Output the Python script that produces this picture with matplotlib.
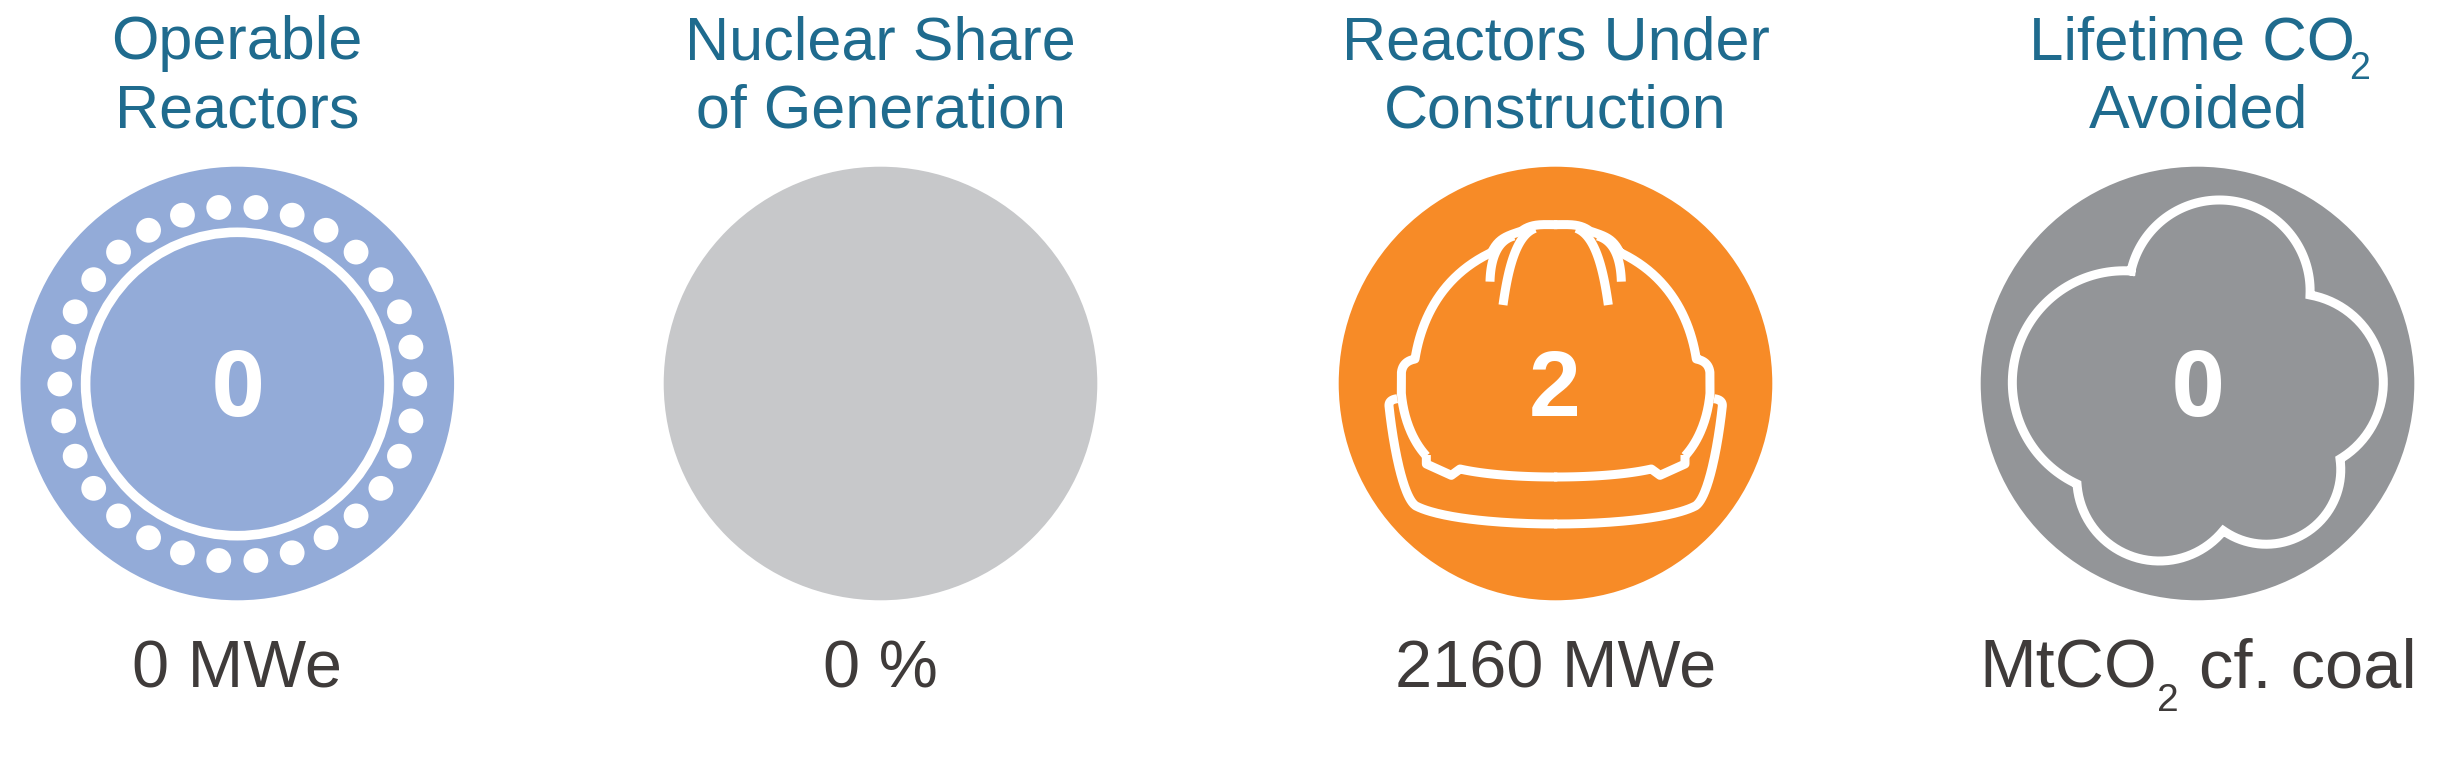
import numpy as np
import matplotlib
matplotlib.use("Agg")
import matplotlib.pyplot as plt
from matplotlib.patches import Circle

W, H = 2456, 761
FONT = "Liberation Sans"

# ---- content
title_line1 = ["Operable", "Nuclear Share", "Reactors Under", "Lifetime CO"]
title_line2 = ["Reactors", "of Generation", "Construction", "Avoided"]
center_labels = ["0", "", "2", "0"]
footers = ["0 MWe", "0 %", "2160 MWe", None]
badge_colors = ["#93ABD8", "#C7C8CA", "#F78B27", "#939598"]
badge_x = [237.3, 880.5, 1555.5, 2197.5]
N_DOTS = 30

TITLE_C = "#1F6B8E"
TEXT_C = "#3F3B3A"
BADGE_Y, BADGE_R = 383.5, 216.8
LW = 9 * 0.72
TITLE_FS = 43.9
FOOT_FS = 48


def bez(p0, c1, c2, p3, n=50):
    t = np.linspace(0, 1, n)[:, None]
    p0, c1, c2, p3 = map(lambda v: np.asarray(v, float), (p0, c1, c2, p3))
    return (1 - t) ** 3 * p0 + 3 * (1 - t) ** 2 * t * c1 + 3 * (1 - t) * t ** 2 * c2 + t ** 3 * p3


def arc3(a, b, c, n=80):
    """Circular arc from a through b to c."""
    a, b, c = map(lambda v: np.asarray(v, float), (a, b, c))
    A = 2 * np.array([b - a, c - a])
    rhs = np.array([b @ b - a @ a, c @ c - a @ a])
    o = np.linalg.solve(A, rhs)
    r = np.linalg.norm(a - o)
    ang = lambda p: np.arctan2(p[1] - o[1], p[0] - o[0])
    t0, t1, t2 = ang(a), ang(b), ang(c)
    d1 = (t1 - t0) % (2 * np.pi)
    d2 = (t2 - t0) % (2 * np.pi)
    if d1 > d2:
        d2 -= 2 * np.pi
    ts = t0 + np.linspace(0, d2, n)
    return np.c_[o[0] + r * np.cos(ts), o[1] + r * np.sin(ts)]


fig = plt.figure(figsize=(W / 100, H / 100), dpi=100, facecolor="white")
ax = fig.add_axes([0, 0, 1, 1])
ax.set_xlim(0, W)
ax.set_ylim(H, 0)
ax.set_aspect("equal")
ax.axis("off")

for x, c in zip(badge_x, badge_colors):
    ax.add_patch(Circle((x, BADGE_Y), BADGE_R, fc=c, ec="none", zorder=1))

# ---- titles
for x, a, b in zip(badge_x, title_line1, title_line2):
    if a.endswith("CO"):
        ax.text(2029, 59, a, family=FONT, fontsize=TITLE_FS + 0.6, color=TITLE_C, ha="left", va="baseline")
        ax.text(2349, 79, "2", family=FONT, fontsize=27, color=TITLE_C, ha="left", va="baseline")
    else:
        ax.text(x, 59, a, family=FONT, fontsize=TITLE_FS, color=TITLE_C, ha="center", va="baseline")
    ax.text(x + (1 if a.endswith("CO") else 0), 127, b, family=FONT, fontsize=TITLE_FS,
            color=TITLE_C, ha="center", va="baseline")

# ---- footers
for x, f in zip(badge_x, footers):
    if f:
        ax.text(x, 688, f, family=FONT, fontsize=FOOT_FS, color=TEXT_C, ha="center", va="baseline")
ax.text(1979, 688, "MtCO", family=FONT, fontsize=FOOT_FS + 1, color=TEXT_C, ha="left", va="baseline")
ax.text(2157, 711, "2", family=FONT, fontsize=28, color=TEXT_C, ha="left", va="baseline")
ax.text(2417, 688, "cf. coal", family=FONT, fontsize=FOOT_FS + 1.5, color=TEXT_C, ha="right", va="baseline")

# ---- centre numbers
for x, v in zip(badge_x, center_labels):
    if v == "2":
        ax.text(x - 1, 416, v, family=FONT, weight="bold", fontsize=67, color="white",
                ha="center", va="baseline", zorder=3)
    elif v:
        ax.text(x + 0.5, 416, v, family="Open Sans", weight="bold", fontsize=66, color="white",
                ha="center", va="baseline", zorder=3)

# ---- reactor icon
cx0 = badge_x[0]
ax.add_patch(Circle((cx0, BADGE_Y + 0.5), 151.7, fc="none", ec="white", lw=9.6 * 0.72, zorder=2))
for ang in np.arange(N_DOTS) * 2 * np.pi / N_DOTS:
    ax.add_patch(Circle((cx0 + 177.5 * np.cos(ang), BADGE_Y + 0.5 - 177.5 * np.sin(ang)),
                        12.4, fc="white", ec="none", zorder=2))

# ---- helmet icon (outline traced in the 3x crop's coordinates)
HX0, HY0, HMID = 1340, 160, 647


def helmet(p):
    p = np.asarray(p, float)
    for side in (1, -1):
        xs = HMID + side * (p[:, 0] - HMID)
        ax.plot(HX0 + xs / 3, HY0 + p[:, 1] / 3, color="white", lw=LW, zorder=2,
                solid_capstyle="butt", solid_joinstyle="round")


shell = np.vstack([
    bez((259, 888), (215, 840), (190, 770), (184, 700)),
    [(184, 640)],
    bez((184, 640), (186, 615), (200, 602), (225, 597)),
    bez((225, 597), (245, 470), (310, 345), (455, 277)),
    bez((455, 277), (475, 235), (500, 228), (545, 213)),
    bez((545, 213), (575, 190), (610, 194), (647, 194)),
    [(652, 194)],
])
helmet(shell)
helmet(bez((450, 365), (452, 290), (475, 240), (522, 228)))
helmet(bez((489, 435), (505, 320), (530, 225), (585, 205)))
brim = np.vstack([
    bez((172, 716), (155, 718), (146, 725), (147, 738)),
    bez((147, 738), (160, 860), (190, 1015), (228, 1038)),
    bez((228, 1038), (300, 1075), (480, 1092), (647, 1092)),
    [(652, 1092)],
])
helmet(brim)
rim = np.vstack([
    [(259, 885), (259, 912), (334, 946)],
    [(360, 927)],
    bez((360, 927), (440, 945), (550, 951), (647, 951)),
    [(652, 951)],
])
helmet(rim)

# ---- cloud icon
CX0, CY0 = 1980, 160
cloud = np.vstack([
    arc3((453, 333), (715, 120), (990, 405)),
    arc3((990, 405), (1210, 670), (1080, 897)),
    arc3((1080, 897), (1017, 1087), (730, 1112)),
    arc3((730, 1112), (535, 1203), (291, 972)),
    arc3((291, 972), (97, 665), (453, 333)),
])
ax.plot(CX0 + cloud[:, 0] / 3, CY0 + cloud[:, 1] / 3, color="white", lw=LW, zorder=2,
        solid_joinstyle="miter")

fig.savefig("out.png", dpi=100, facecolor="white")
